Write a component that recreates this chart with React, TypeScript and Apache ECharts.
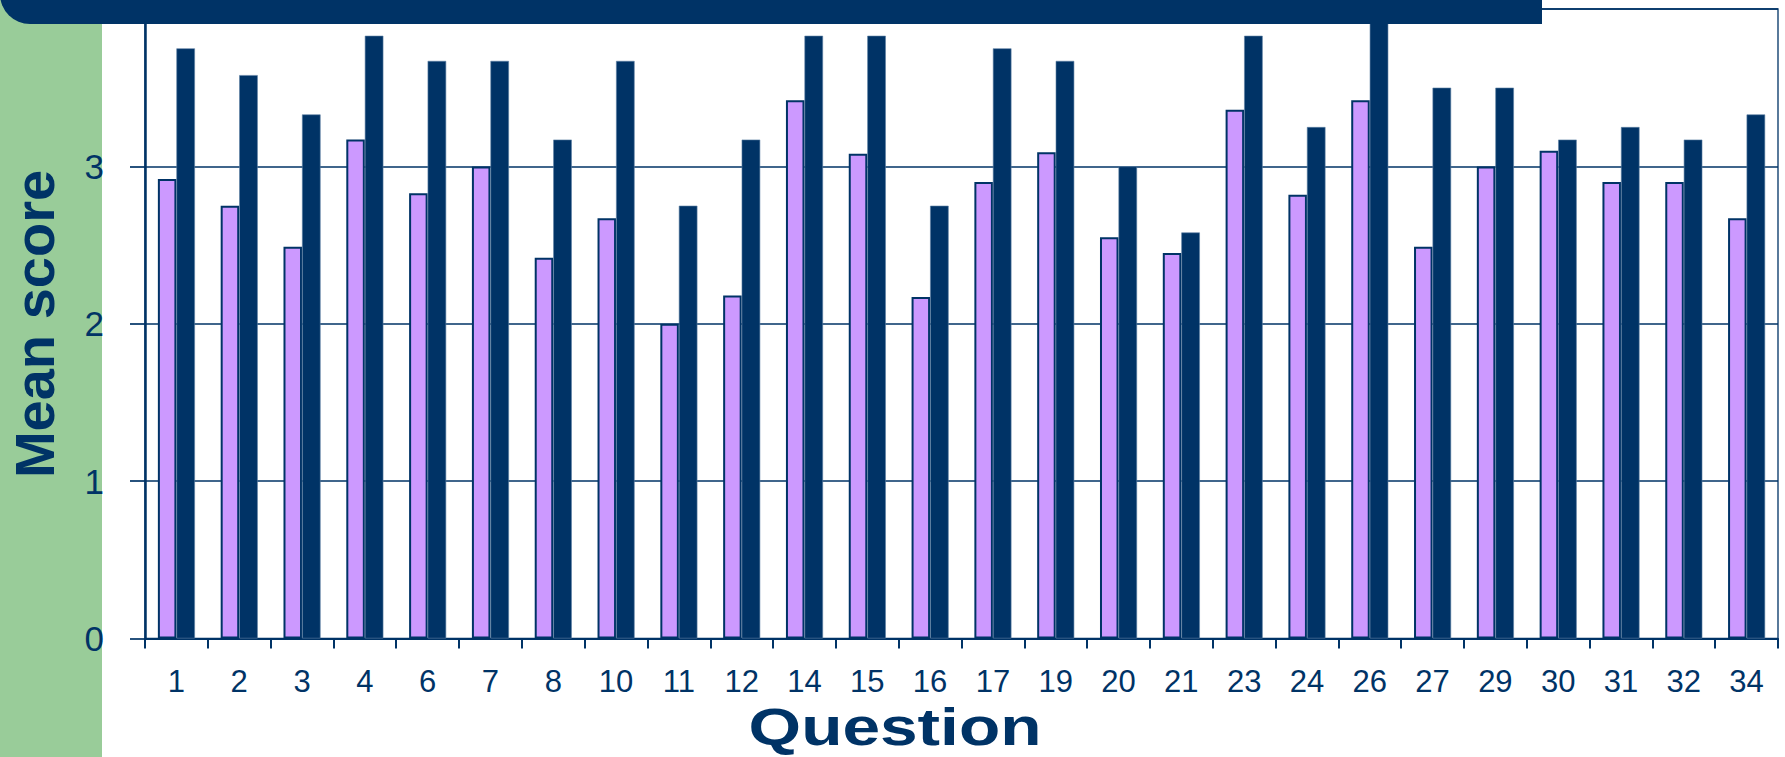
import React, { useEffect, useRef } from "react";
import * as echarts from "echarts";

// Question numbers along the category axis
const questions = ["1", "2", "3", "4", "6", "7", "8", "10", "11", "12", "14", "15", "16", "17", "19", "20", "21", "23", "24", "26", "27", "29", "30", "31", "32", "34"];

// Mean score per question, first group (lilac bars)
const groupOne = [2.92, 2.75, 2.49, 3.17, 2.83, 3.0, 2.42, 2.67, 2.0, 2.18, 3.42, 3.08, 2.17, 2.9, 3.09, 2.55, 2.45, 3.36, 2.82, 3.42, 2.49, 3.0, 3.1, 2.9, 2.9, 2.67];

// Mean score per question, second group (navy bars)
const groupTwo = [3.75, 3.58, 3.33, 3.83, 3.67, 3.67, 3.17, 3.67, 2.75, 3.17, 3.83, 3.83, 2.75, 3.75, 3.67, 3.0, 2.58, 3.83, 3.25, 4.0, 3.5, 3.5, 3.17, 3.25, 3.17, 3.33];

// Value axis range
const yMin = 0;
const yMax = 4;
const yStep = 1;

const NAVY = "#003366";
const LILAC = "#CC99FF";
const GREEN = "#99CC99";
const FONT = '"Liberation Sans", Arial, Helvetica, sans-serif';

export default function App() {
  const ref = useRef<HTMLDivElement>(null);

  useEffect(() => {
    document.body.style.margin = "0";
    const chart = echarts.init(ref.current!, null, { renderer: "svg" });

    chart.setOption({
      animation: false,
      backgroundColor: "#ffffff",
      grid: {
        left: 145,
        top: 9,
        width: 1633,
        height: 629.5,
        containLabel: false,
        show: true,
        borderColor: NAVY,
        borderWidth: 1.3,
        backgroundColor: "transparent",
      },
      xAxis: {
        type: "category",
        data: questions,
        boundaryGap: true,
        axisLine: { show: true, lineStyle: { color: NAVY, width: 2 } },
        axisTick: { show: true, length: 10, lineStyle: { color: NAVY, width: 2 } },
        axisLabel: {
          color: NAVY,
          fontFamily: FONT,
          fontSize: 31,
          margin: 27,
          interval: 0,
        },
        splitLine: { show: false },
      },
      yAxis: {
        type: "value",
        min: yMin,
        max: yMax,
        interval: yStep,
        axisLine: { show: true, lineStyle: { color: NAVY, width: 2.5 } },
        axisTick: { show: true, length: 15, lineStyle: { color: NAVY, width: 1.7 } },
        axisLabel: {
          color: NAVY,
          fontFamily: FONT,
          fontSize: 35,
          margin: 41,
          formatter: (v: number) => (v === yMax ? "" : String(v)),
        },
        splitLine: { show: true, lineStyle: { color: NAVY, width: 1.6 } },
      },
      series: [
        {
          name: "Series 1",
          type: "bar",
          data: groupOne,
          barGap: "0%",
          barCategoryGap: "41%",
          itemStyle: { color: LILAC, borderColor: NAVY, borderWidth: 2 },
        },
        {
          name: "Series 2",
          type: "bar",
          data: groupTwo,
          barGap: "0%",
          barCategoryGap: "41%",
          itemStyle: { color: NAVY, borderColor: "#5c7fa3", borderWidth: 0.6 },
        },
      ],
      graphic: [
        {
          type: "rect",
          z: 0,
          silent: true,
          shape: { x: 0, y: 0, width: 102, height: 757 },
          style: { fill: GREEN },
        },
        {
          type: "rect",
          z: 100,
          silent: true,
          shape: { x: 0, y: -40, width: 1542, height: 64, r: [0, 0, 0, 30] },
          style: { fill: NAVY },
        },
        {
          type: "text",
          z: 100,
          x: 34,
          y: 324,
          rotation: Math.PI / 2,
          style: {
            text: "Mean score",
            font: `bold 56px ${FONT}`,
            fill: NAVY,
            align: "center",
            verticalAlign: "middle",
          },
        },
        {
          type: "text",
          z: 100,
          x: 895,
          y: 727,
          scaleX: 1.3,
          style: {
            text: "Question",
            font: `bold 52px ${FONT}`,
            fill: NAVY,
            align: "center",
            verticalAlign: "middle",
          },
        },
      ],
    });

    return () => chart.dispose();
  }, []);

  return (
    <div
      ref={ref}
      style={{ position: "absolute", left: 0, top: 0, width: 1785, height: 757 }}
    />
  );
}
